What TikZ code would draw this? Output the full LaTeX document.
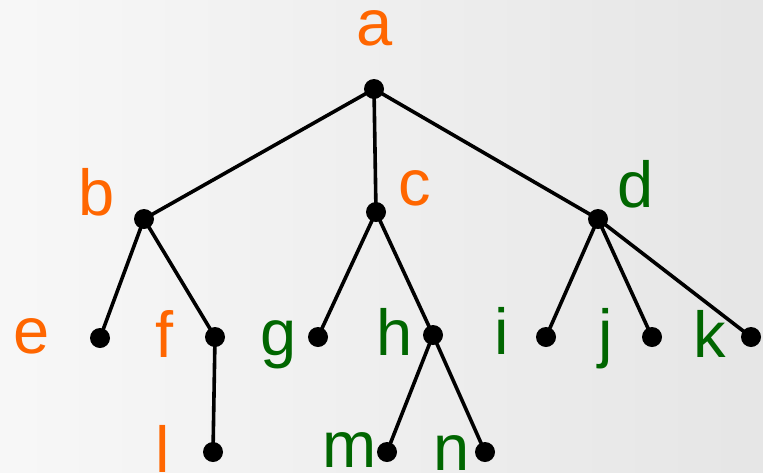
\documentclass[tikz,border=0pt]{standalone}
\usepackage{fontspec}
\setmainfont{Liberation Sans}
\definecolor{lblorange}{RGB}{255,102,0}
\definecolor{lblgreen}{RGB}{0,102,0}
\begin{document}
\begin{tikzpicture}[x=1pt,y=-1pt,
  dot/.style={circle,fill=black,inner sep=0pt,minimum size=20pt},
  edge/.style={line width=3.6pt},
  lbl/.style={anchor=base,inner sep=0pt,font=\fontsize{65}{65}\selectfont},
  ol/.style={lbl,text=lblorange},
  gl/.style={lbl,text=lblgreen}]
\shade[left color=white!97!black,right color=white!90!black] (0,0) rectangle (763,472);
\useasboundingbox (0,0) rectangle (763,472);
% dots
\node[dot] (a) at (374,89) {};
\node[dot] (b) at (144,219) {};
\node[dot] (c) at (376,212) {};
\node[dot] (d) at (598,219) {};
\node[dot] (e) at (100,338) {};
\node[dot] (f) at (215,337) {};
\node[dot] (g) at (318,337) {};
\node[dot] (h) at (433,335) {};
\node[dot] (i) at (546,337) {};
\node[dot] (j) at (652,337) {};
\node[dot] (k) at (751,337) {};
\node[dot] (l) at (213,452) {};
\node[dot] (m) at (387,452) {};
\node[dot] (n) at (485,452) {};
% edges
\draw[edge] (a.center) -- (b.center);
\draw[edge] (a.center) -- (c.center);
\draw[edge] (a.center) -- (d.center);
\draw[edge] (b.center) -- (e.center);
\draw[edge] (b.center) -- (f.center);
\draw[edge] (f.center) -- (l.center);
\draw[edge] (c.center) -- (g.center);
\draw[edge] (c.center) -- (h.center);
\draw[edge] (h.center) -- (m.center);
\draw[edge] (h.center) -- (n.center);
\draw[edge] (d.center) -- (i.center);
\draw[edge] (d.center) -- (j.center);
\draw[edge] (d.center) -- (k.center);
% labels
\node[ol] (la) at (375,45) {a};
\node[ol] (lb) at (97,215) {b};
\node[ol] (lc) at (415,205) {c};
\node[gl] (ld) at (636,207) {d};
\node[ol] (le) at (32,353) {e};
\node[ol] (lf) at (165,357) {f};
\node[gl] (lg) at (279,355) {g};
\node[gl] (lh) at (395,355) {h};
\node[gl] (li) at (502,354) {i};
\node[gl] (lj) at (606,355) {j};
\node[gl] (lk) at (710,357) {k};
\node[ol] (ll) at (163,472) {l};
\node[gl] (lm) at (350,467) {m};
\node[gl] (ln) at (452,470) {n};
\end{tikzpicture}
\end{document}
